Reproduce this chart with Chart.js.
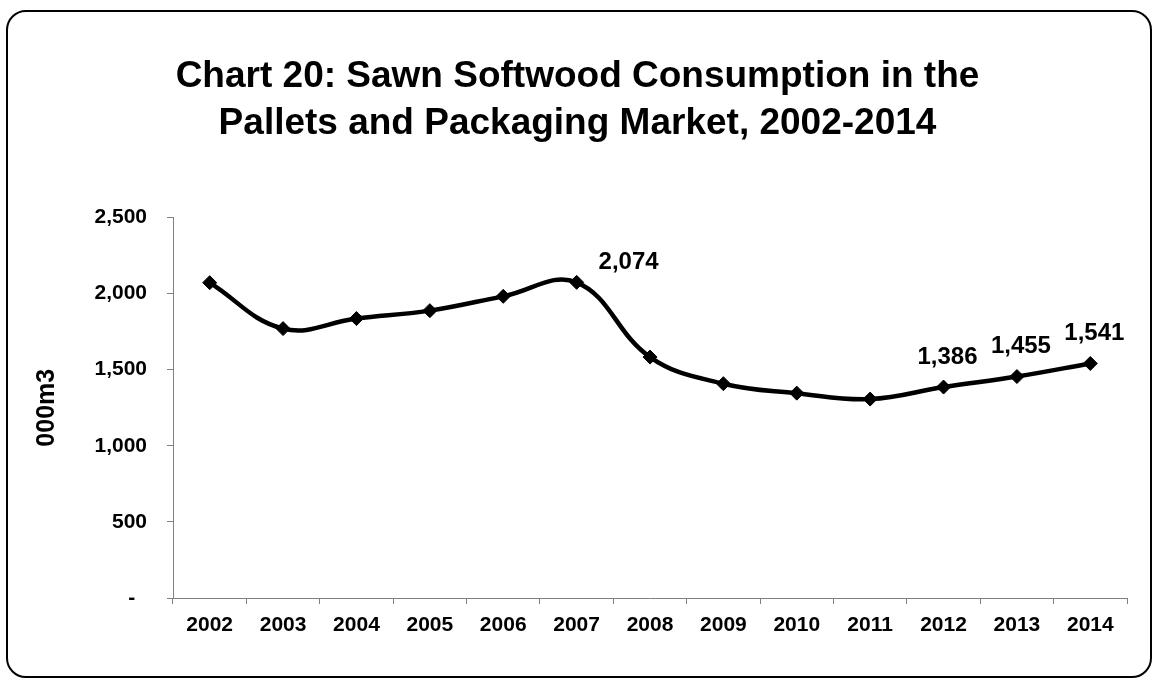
<!DOCTYPE html>
<html>
<head>
<meta charset="utf-8">
<script src="https://cdn.jsdelivr.net/npm/chart.js@4/dist/chart.umd.min.js"></script>
<style>
  html, body { margin: 0; padding: 0; background: #fff; }
  #wrap { position: relative; width: 1155px; height: 680px; }
  #frame {
    position: absolute; left: 6px; top: 10px; width: 1142px; height: 664px;
    border: 2px solid #000; border-radius: 20px; pointer-events: none;
  }
  canvas { position: absolute; left: 0; top: 0; }
</style>
</head>
<body>
<div id="wrap">
  <canvas id="chart" width="1155" height="680"></canvas>
  <div id="frame"></div>
</div>
<script>
const anos = ["2002", "2003", "2004", "2005", "2006", "2007", "2008",
  "2009", "2010", "2011", "2012", "2013", "2014"];
const consumo = [2072, 1770, 1836, 1888, 1982, 2074, 1583, 1408, 1346, 1307, 1386, 1455, 1541];
const yTicks = [0, 500, 1000, 1500, 2000, 2500];
// which points get a value label
const rotulados = [5, 10, 11, 12];

const fonte = "'Liberation Sans', Arial, sans-serif";

function formatar(v) {
  return v.toLocaleString("en-US");
}

// value labels above selected points
const rotulosPlugin = {
  id: "rotulos",
  afterDatasetsDraw(chart) {
    const meta = chart.getDatasetMeta(0);
    const ctx = chart.ctx;
    ctx.save();
    ctx.font = "bold 24px " + fonte;
    ctx.fillStyle = "#000";
    ctx.textAlign = "center";
    ctx.textBaseline = "middle";
    rotulados.forEach((i) => {
      const p = meta.data[i];
      const dx = i === 5 ? 52 : 4;
      const dy = i === 5 ? -20 : -30;
      ctx.fillText(formatar(consumo[i]), p.x + dx, p.y + dy);
    });
    ctx.restore();
  },
};

const ctx = document.getElementById("chart").getContext("2d");
const grafico = new Chart(ctx, {
  type: "line",
  data: {
    labels: anos,
    datasets: [
      {
        data: consumo,
        borderColor: "#000",
        borderWidth: 4.5,
        tension: 0.4,
        pointStyle: "rectRot",
        pointRadius: 7,
        pointBackgroundColor: "#000",
        pointBorderColor: "#000",
        pointBorderWidth: 1,
      },
    ],
  },
  plugins: [rotulosPlugin],
  options: {
    responsive: false,
    animation: false,
    layout: {
      padding: { left: 28, right: 28, top: 0, bottom: 22 },
    },
    plugins: {
      legend: { display: false },
      tooltip: { enabled: false },
      title: {
        display: true,
        text: ["Chart 20: Sawn Softwood Consumption in the",
          "Pallets and Packaging Market, 2002-2014"],
        color: "#000",
        font: { family: fonte, size: 37, weight: "bold", lineHeight: 1.25 },
        padding: { top: 54, bottom: 71 },
      },
    },
    scales: {
      x: {
        offset: true,
        grid: {
          offset: true,
          drawOnChartArea: false,
          drawTicks: true,
          tickLength: 6,
          color: "#808080",
        },
        border: { color: "#808080", width: 1 },
        ticks: {
          color: "#000",
          font: { family: fonte, size: 21, weight: "bold" },
          padding: 9,
          maxRotation: 0,
        },
        afterFit(axis) {
          axis.height = 60;
        },
      },
      y: {
        min: 0,
        max: 2500,
        afterBuildTicks(axis) {
          axis.ticks = yTicks.map((v) => ({ value: v }));
        },
        grid: {
          drawOnChartArea: false,
          drawTicks: true,
          tickLength: 6,
          color: "#808080",
        },
        border: { color: "#808080", width: 1 },
        ticks: {
          color: "#000",
          font: { family: fonte, size: 21, weight: "bold" },
          padding: 20,
          callback: (v) => (v === 0 ? "-  " : formatar(v)),
        },
        title: {
          display: true,
          text: "000m3",
          color: "#000",
          font: { family: fonte, size: 25, weight: "bold" },
          padding: { top: 4, bottom: 0 },
        },
        afterFit(axis) {
          axis.width = 145;
        },
      },
    },
  },
});
</script>
</body>
</html>
